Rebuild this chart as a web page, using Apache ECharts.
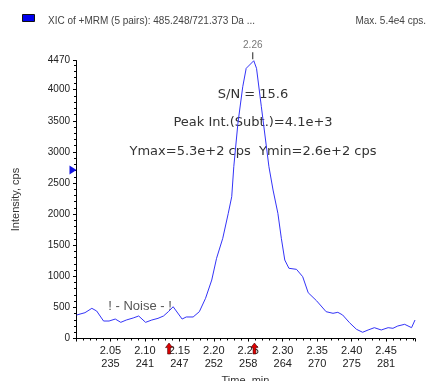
<!DOCTYPE html>
<html>
<head>
<meta charset="utf-8">
<script src="https://cdn.jsdelivr.net/npm/echarts@6/dist/echarts.min.js"></script>
<style>
  html, body { margin: 0; padding: 0; background: #fff; }
  #chart { width: 428px; height: 381px; }
</style>
</head>
<body>
<div id="chart"></div>
<script>
// time (min) / intensity (cps)
var times = [
  2.001, 2.013, 2.023, 2.030, 2.040, 2.048, 2.057, 2.065, 2.073, 2.083,
  2.091, 2.101, 2.110, 2.119, 2.127, 2.134, 2.141, 2.154, 2.160, 2.170,
  2.179, 2.188, 2.197, 2.204, 2.213, 2.221, 2.226, 2.229, 2.235, 2.242,
  2.247, 2.258, 2.262, 2.269, 2.280, 2.286, 2.293, 2.298, 2.303, 2.309,
  2.320, 2.329, 2.337, 2.349, 2.363, 2.373, 2.380, 2.387, 2.397, 2.407,
  2.416, 2.424, 2.433, 2.443, 2.453, 2.460, 2.467, 2.477, 2.487, 2.492
];
var intensity = [
  378, 415, 485, 442, 281, 281, 313, 260, 297, 330,
  362, 260, 297, 324, 362, 431, 511, 313, 346, 346,
  431, 646, 940, 1289, 1611, 2013, 2280, 2762, 3460, 4048,
  4344, 4466, 4344, 3727, 2762, 2387, 2013, 1611, 1262, 1129,
  1112, 994, 736, 608, 431, 405, 421, 378, 254, 148,
  100, 137, 174, 137, 174, 164, 201, 228, 174, 297
];
// bottom axis: time labels and matching cycle numbers
var timeTicks = [2.05, 2.10, 2.15, 2.20, 2.25, 2.30, 2.35, 2.40, 2.45];
var cycleTicks = [235, 241, 247, 252, 258, 264, 270, 275, 281];

var peakTime = 2.258, peakValue = 4466, peakLabel = '2.26';
var arrowTimes = [2.135, 2.259];
var markerLevel = 2710;

var chart = echarts.init(document.getElementById('chart'));

var points = times.map(function (t, i) { return [t, intensity[i]]; });

var marks = [
  {
    coord: [peakTime, peakValue],
    symbol: 'rect', symbolSize: [1, 7], symbolOffset: [-1, -5],
    itemStyle: { color: '#222' },
    label: { show: true, position: 'top', distance: 2, formatter: peakLabel,
             color: '#777', fontSize: 10, fontFamily: 'Liberation Sans' }
  },
  {
    coord: [2.0, markerLevel],
    symbol: 'triangle', symbolSize: [9, 7], symbolRotate: -90, symbolOffset: [-3, 0],
    itemStyle: { color: '#1010e0' }, label: { show: false }
  }
];
arrowTimes.forEach(function (t) {
  marks.push({
    coord: [t, 0],
    symbol: 'path://M5,0 L10,5 L7,5 L7,12 L3,12 L3,5 L0,5 Z',
    symbolSize: [7, 11], symbolOffset: [0, 10],
    itemStyle: { color: '#e00000', borderColor: '#400', borderWidth: 0.6 },
    label: { show: false }
  });
});

var option = {
  animation: false,
  backgroundColor: '#fff',
  grid: { left: 76, right: 13, top: 60.5, bottom: 42.5, containLabel: false, outerBoundsMode: 'none' },
  xAxis: {
    type: 'value',
    min: 2.0,
    max: 2.492,
    interval: 0.05,
    name: 'Time, min',
    nameLocation: 'middle',
    nameGap: 37,
    nameTextStyle: { color: '#333', fontSize: 11, fontFamily: 'Liberation Sans' },
    axisLine: { lineStyle: { color: '#000', width: 1 } },
    axisTick: { show: true, length: 3, lineStyle: { color: '#000' } },
    minorTick: { show: true, splitNumber: 5, length: 2, lineStyle: { color: '#000' } },
    splitLine: { show: false },
    axisLabel: {
      showMinLabel: false,
      showMaxLabel: false,
      margin: 6,
      color: '#222',
      fontSize: 11,
      lineHeight: 13,
      fontFamily: 'Liberation Sans',
      formatter: function (v) {
        var i = timeTicks.findIndex(function (t) { return Math.abs(t - v) < 1e-6; });
        if (i < 0) return '';
        return timeTicks[i].toFixed(2) + '\n' + cycleTicks[i];
      }
    }
  },
  yAxis: {
    type: 'value',
    min: 0,
    max: 4470,
    interval: 500,
    name: 'Intensity, cps',
    nameLocation: 'middle',
    nameGap: 55,
    nameRotate: 90,
    nameTextStyle: { color: '#333', fontSize: 11, fontFamily: 'Liberation Sans' },
    axisLine: { show: true, lineStyle: { color: '#000', width: 1 } },
    axisTick: { show: true, length: 3, lineStyle: { color: '#000' } },
    minorTick: { show: true, splitNumber: 5, length: 2, lineStyle: { color: '#000' } },
    splitLine: { show: false },
    axisLabel: {
      margin: 6,
      color: '#222',
      fontSize: 10,
      fontFamily: 'Liberation Sans',
      formatter: function (v) { return String(v); }
    }
  },
  series: [{
    type: 'line',
    data: points,
    symbol: 'none',
    clip: false,
    z: 2,
    lineStyle: { color: '#3434f8', width: 1 },
    markPoint: { data: marks, silent: true, animation: false }
  }],
  graphic: [
    { type: 'rect', left: 22, top: 14, shape: { width: 12, height: 7 },
      style: { fill: '#0000ee', stroke: '#111', lineWidth: 1 } },
    { type: 'text', left: 48, top: 16,
      style: { text: 'XIC of +MRM (5 pairs): 485.248/721.373 Da ...', fill: '#444',
               fontSize: 10, fontFamily: 'Liberation Sans' } },
    { type: 'text', right: 2, top: 16,
      style: { text: 'Max. 5.4e4 cps.', fill: '#444', fontSize: 10, fontFamily: 'Liberation Sans' } },
    { type: 'text', x: 253, y: 95,
      style: { text: 'S/N = 15.6', fill: '#333', fontSize: 13, fontFamily: 'DejaVu Sans',
               align: 'center', verticalAlign: 'middle' } },
    { type: 'text', x: 253, y: 123,
      style: { text: 'Peak Int.(Subt.)=4.1e+3', fill: '#333', fontSize: 13, fontFamily: 'DejaVu Sans',
               align: 'center', verticalAlign: 'middle' } },
    { type: 'text', x: 253, y: 152,
      style: { text: 'Ymax=5.3e+2 cps  Ymin=2.6e+2 cps', fill: '#333', fontSize: 13, fontFamily: 'DejaVu Sans',
               align: 'center', verticalAlign: 'middle' } },
    { type: 'text', x: 140, y: 306, z: 1,
      style: { text: '! - Noise - !', fill: '#555', fontSize: 13, fontFamily: 'Liberation Sans',
               align: 'center', verticalAlign: 'middle' } }
  ]
};

chart.setOption(option);
</script>
</body>
</html>
